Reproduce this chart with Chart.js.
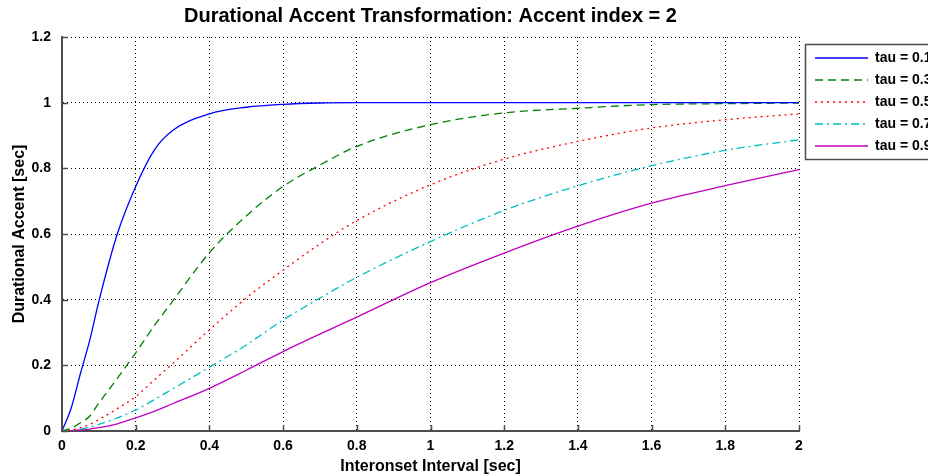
<!DOCTYPE html>
<html>
<head>
<meta charset="utf-8">
<script src="https://cdn.jsdelivr.net/npm/chart.js@4/dist/chart.umd.min.js"></script>
<style>
  html, body { margin: 0; padding: 0; background: #fff; }
  #wrap { width: 928px; height: 476px; position: relative; }
</style>
</head>
<body>
<div id="wrap"><canvas id="accentChart"></canvas></div>
<script>
// =========================
// Durational accent curves
// =========================

const xValues = [0, 0.025, 0.05, 0.075, 0.1, 0.15, 0.2, 0.25, 0.3, 0.4, 0.5, 0.6, 0.7, 0.8, 1.0, 1.2, 1.4, 1.6, 1.8, 2.0];

const tau01 = [0, 0.07, 0.175, 0.275, 0.395, 0.6, 0.745, 0.855, 0.915, 0.966, 0.986, 0.995, 0.999, 1, 1, 1, 1, 1, 1, 1];
const tau03 = [0, 0.008, 0.025, 0.045, 0.085, 0.16, 0.238, 0.32, 0.395, 0.543, 0.655, 0.745, 0.81, 0.867, 0.933, 0.969, 0.983, 0.994, 0.997, 0.999];
const tau05 = [0, 0.003, 0.01, 0.02, 0.035, 0.068, 0.105, 0.155, 0.205, 0.308, 0.405, 0.49, 0.57, 0.641, 0.75, 0.828, 0.882, 0.923, 0.948, 0.966];
const tau07 = [0, 0.002, 0.006, 0.012, 0.02, 0.04, 0.064, 0.095, 0.128, 0.194, 0.262, 0.338, 0.405, 0.468, 0.577, 0.672, 0.747, 0.808, 0.855, 0.887];
const tau09 = [0, 0.001, 0.003, 0.006, 0.01, 0.022, 0.04, 0.06, 0.083, 0.13, 0.185, 0.242, 0.295, 0.347, 0.452, 0.542, 0.624, 0.694, 0.747, 0.796];

const seriesLabels = ['tau = 0.1', 'tau = 0.3', 'tau = 0.5', 'tau = 0.7', 'tau = 0.9'];
const seriesValues = [tau01, tau03, tau05, tau07, tau09];

const xTicks = [0, 0.2, 0.4, 0.6, 0.8, 1, 1.2, 1.4, 1.6, 1.8, 2];
const yTicks = [0, 0.2, 0.4, 0.6, 0.8, 1, 1.2];

const titleText = 'Durational Accent Transformation: Accent index = 2';
const xTitle = 'Interonset Interval [sec]';
const yTitle = 'Durational Accent [sec]';

// line styles, MATLAB default order
const lineColors = ['#0000ff', '#008000', '#ff0000', '#00bfbf', '#bf00bf'];
const lineDashes = [[], [8, 5], [2, 4], [8, 4, 2, 4], []];

const FONT = '"Liberation Sans", Arial, sans-serif';
const AXIS_GRAY = '#4d4d4d';

const datasets = seriesValues.map((vals, i) => ({
    label: seriesLabels[i],
    data: xValues.map((x, j) => ({ x: x, y: vals[j] })),
    borderColor: lineColors[i],
    borderDash: lineDashes[i],
    borderWidth: 1.3,
    pointRadius: 0,
    fill: false,
    cubicInterpolationMode: 'monotone'
}));

// Title, inward ticks and the legend box
const matlabDecor = {
    id: 'matlabDecor',
    afterDraw(chart) {
        const ctx = chart.ctx;
        const area = chart.chartArea;
        const xs = chart.scales.x;
        const ys = chart.scales.y;

        ctx.save();
        // inward tick marks
        ctx.strokeStyle = AXIS_GRAY;
        ctx.lineWidth = 1.5;
        ctx.setLineDash([]);
        xTicks.forEach(t => {
            const px = Math.round(xs.getPixelForValue(t)) + 0.5;
            ctx.beginPath();
            ctx.moveTo(px, area.bottom);
            ctx.lineTo(px, area.bottom - 6);
            ctx.stroke();
        });
        yTicks.forEach(t => {
            const py = Math.round(ys.getPixelForValue(t)) + 0.5;
            ctx.beginPath();
            ctx.moveTo(area.left, py);
            ctx.lineTo(area.left + 6, py);
            ctx.stroke();
        });

        // title
        ctx.fillStyle = '#000';
        ctx.font = 'bold 20px ' + FONT;
        ctx.textAlign = 'center';
        ctx.textBaseline = 'middle';
        ctx.fillText(titleText, (area.left + area.right) / 2, 16);

        // legend box
        const boxX = 805, boxY = 44, boxW = 140, boxH = 115;
        ctx.fillStyle = '#fff';
        ctx.fillRect(boxX, boxY, boxW, boxH);
        ctx.strokeStyle = AXIS_GRAY;
        ctx.lineWidth = 1.5;
        ctx.strokeRect(boxX + 0.5, boxY + 0.5, boxW, boxH);

        chart.data.datasets.forEach((ds, i) => {
            const rowY = 58 + i * 22;
            ctx.strokeStyle = ds.borderColor;
            ctx.lineWidth = ds.borderWidth;
            ctx.setLineDash(ds.borderDash);
            ctx.beginPath();
            ctx.moveTo(815, rowY);
            ctx.lineTo(868, rowY);
            ctx.stroke();
            ctx.setLineDash([]);
            ctx.fillStyle = '#000';
            ctx.font = 'bold 14px ' + FONT;
            ctx.textAlign = 'left';
            ctx.textBaseline = 'middle';
            ctx.fillText(ds.label, 875, rowY);
        });
        ctx.restore();
    }
};

const ctx = document.getElementById('accentChart').getContext('2d');

new Chart(ctx, {
    type: 'line',
    data: { datasets: datasets },
    options: {
        responsive: true,
        maintainAspectRatio: false,
        animation: false,
        layout: { padding: { top: 37, right: 129, left: 0, bottom: 0 } },
        plugins: {
            legend: { display: false },
            title: { display: false },
            tooltip: { enabled: false }
        },
        scales: {
            x: {
                type: 'linear',
                min: 0,
                max: 2,
                afterBuildTicks: (scale) => { scale.ticks = xTicks.map(v => ({ value: v })); },
                afterFit: (scale) => { scale.height = 45; },
                grid: { color: '#000', lineWidth: 1, drawTicks: false },
                border: { display: true, color: AXIS_GRAY, width: 2, dash: [1, 3] },
                ticks: {
                    color: '#000',
                    padding: 7,
                    maxRotation: 0,
                    font: { family: FONT, size: 14, weight: 'bold' },
                    callback: (v) => String(v)
                },
                title: {
                    display: true,
                    text: xTitle,
                    color: '#000',
                    padding: { top: 4, bottom: 0 },
                    font: { family: FONT, size: 16, weight: 'bold' }
                }
            },
            y: {
                type: 'linear',
                min: 0,
                max: 1.2,
                afterBuildTicks: (scale) => { scale.ticks = yTicks.map(v => ({ value: v })); },
                afterFit: (scale) => { scale.width = 62; },
                grid: { color: '#000', lineWidth: 1, drawTicks: false },
                border: { display: true, color: AXIS_GRAY, width: 2, dash: [1, 3] },
                ticks: {
                    color: '#000',
                    padding: 11,
                    font: { family: FONT, size: 14, weight: 'bold' },
                    callback: (v) => String(v)
                },
                title: {
                    display: true,
                    text: yTitle,
                    color: '#000',
                    padding: { top: 10, bottom: 0 },
                    font: { family: FONT, size: 16, weight: 'bold' }
                }
            }
        }
    },
    plugins: [matlabDecor]
});
</script>
</body>
</html>
